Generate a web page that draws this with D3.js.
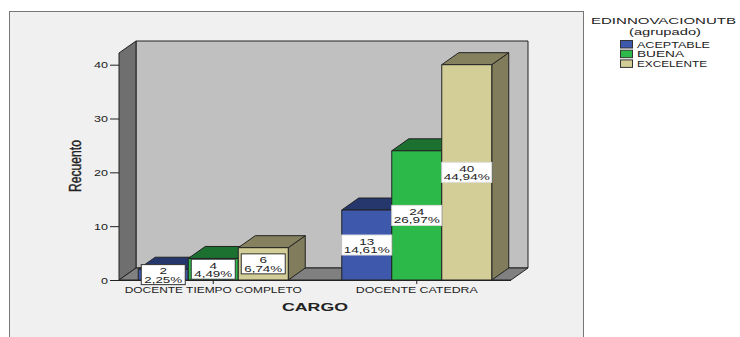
<!DOCTYPE html>
<html><head><meta charset="utf-8">
<script src="https://cdnjs.cloudflare.com/ajax/libs/d3/7.8.5/d3.min.js"></script>
<style>html,body{margin:0;padding:0;background:#fff}svg{display:block}text{font-family:"Liberation Sans",Arial,sans-serif;fill:#222}</style>
</head><body><svg id="c" width="740" height="337"></svg>
<script>
const categories = ["DOCENTE TIEMPO COMPLETO", "DOCENTE CATEDRA"];
const seriesNames = ["ACEPTABLE", "BUENA", "EXCELENTE"];
const aceptable = [2, 13];
const buena = [4, 24];
const excelente = [6, 40];
const aceptablePct = ["2,25%", "14,61%"];
const buenaPct = ["4,49%", "26,97%"];
const excelentePct = ["6,74%", "44,94%"];
const yTicks = [0, 10, 20, 30, 40];
const frontColors = ["#3e58ac", "#2db84a", "#d3ce97"];
const topColors = ["#26376e", "#1c7030", "#85815e"];
const sideColors = ["#26376e", "#1c7030", "#807c5c"];

const values = [aceptable, buena, excelente];
const pcts = [aceptablePct, buenaPct, excelentePct];
const dx = 17, dy = 12;
const svg = d3.select("#c");
const y = d3.scaleLinear().domain([0, 42.17]).range([280, 53]);
const x0 = d3.scaleBand().domain(categories).range([111.5, 518.5]);
const x1 = d3.scaleBand().domain(seriesNames).range([-75, 75]);
const poly = pts => pts.map(p => p.join(",")).join(" ");
const stroke = "#222";

// outer panel
svg.append("rect").attr("x", 9.5).attr("y", 11.5).attr("width", 574).attr("height", 330)
  .attr("fill", "#f0f0f0").attr("stroke", "#777").attr("stroke-width", 1);

// walls and floor
const xl = 119, xr = 511, y0 = y(0), yt = y.range()[1];
svg.append("polygon").attr("points", poly([[xl + dx, yt - dy], [xr + dx, yt - dy], [xr + dx, y0 - dy], [xl + dx, y0 - dy]]))
  .attr("fill", "#c0c0c0").attr("stroke", stroke).attr("stroke-width", 1);
svg.append("polygon").attr("points", poly([[xl, yt], [xl + dx, yt - dy], [xl + dx, y0 - dy], [xl, y0]]))
  .attr("fill", "#6f6f6f").attr("stroke", stroke).attr("stroke-width", 1);
svg.append("polygon").attr("points", poly([[xl, y0], [xl + dx, y0 - dy], [xr + dx, y0 - dy], [xr, y0]]))
  .attr("fill", "#808080").attr("stroke", stroke).attr("stroke-width", 1);

// axes
const ya = svg.append("g").attr("transform", `translate(${xl},0)`)
  .call(d3.axisLeft(y).tickValues(yTicks).tickSize(9).tickPadding(2));
ya.select(".domain").remove();
ya.selectAll("line").attr("stroke", "#222");
ya.selectAll("text").attr("font-size", 9.5).attr("textLength", d => d === 0 ? 7 : 14).attr("lengthAdjust", "spacingAndGlyphs");

const xa = svg.append("g").attr("transform", `translate(0,${y0})`)
  .call(d3.axisBottom(x0).tickSize(4).tickPadding(0));
xa.select(".domain").attr("stroke", "#222").attr("d", `M${xl},0.5H${xr}`);
xa.selectAll("line").attr("stroke", "#222");
xa.selectAll("text").attr("font-size", 9).attr("dy", "1.05em")
  .attr("textLength", (d, i) => [177, 122][i]).attr("lengthAdjust", "spacingAndGlyphs");

// bars
categories.forEach((cat, ci) => {
  seriesNames.forEach((s, si) => {
    const v = values[si][ci];
    const a = x0(cat) + x0.bandwidth() / 2 + x1(s), w = x1.bandwidth(), t = y(v);
    const g = svg.append("g").attr("stroke", stroke).attr("stroke-width", 1).attr("stroke-linejoin", "round");
    g.append("polygon").attr("points", poly([[a + w, t], [a + w + dx, t - dy], [a + w + dx, y0 - dy], [a + w, y0]])).attr("fill", sideColors[si]);
    g.append("polygon").attr("points", poly([[a, t], [a + dx, t - dy], [a + w + dx, t - dy], [a + w, t]])).attr("fill", topColors[si]);
    g.append("rect").attr("x", a).attr("y", t).attr("width", w).attr("height", y0 - t).attr("fill", frontColors[si]);
  });
});

// value labels
categories.forEach((cat, ci) => {
  seriesNames.forEach((s, si) => {
    const v = values[si][ci];
    const cx = x0(cat) + x0.bandwidth() / 2 + x1(s) + x1.bandwidth() / 2;
    const cy = (y(v) + y0) / 2;
    const pct = pcts[si][ci];
    const bw = ci === 0 ? 44 : 50, bh = 20;
    const g = svg.append("g");
    g.append("rect").attr("x", cx - bw / 2).attr("y", cy - bh / 2).attr("width", bw).attr("height", bh)
      .attr("fill", "#fff").attr("stroke", ci === 0 ? "#333" : "#ddd").attr("stroke-width", 1);
    g.append("text").attr("x", cx).attr("y", cy - 0.5).attr("text-anchor", "middle").attr("font-size", 8.5)
      .attr("textLength", String(v).length * 7.5).attr("lengthAdjust", "spacingAndGlyphs").text(v);
    g.append("text").attr("x", cx).attr("y", cy + 8).attr("text-anchor", "middle").attr("font-size", 8.5)
      .attr("textLength", ci === 0 ? 38 : 46).attr("lengthAdjust", "spacingAndGlyphs").text(pct);
  });
});

// axis titles
svg.append("text").attr("x", 315).attr("y", 311).attr("text-anchor", "middle").attr("font-size", 11)
  .attr("font-weight", "bold").attr("textLength", 66).attr("lengthAdjust", "spacingAndGlyphs").text("CARGO");
svg.append("text").attr("transform", "translate(81,166) rotate(-90)").attr("text-anchor", "middle").attr("font-size", 16)
  .attr("font-weight", "normal").attr("stroke", "#222").attr("stroke-width", 0.4).attr("textLength", 52).attr("lengthAdjust", "spacingAndGlyphs").text("Recuento");

// legend
svg.append("text").attr("x", 591).attr("y", 24).attr("font-size", 9.5).attr("textLength", 145).attr("lengthAdjust", "spacingAndGlyphs").text("EDINNOVACIONUTB");
svg.append("text").attr("x", 665).attr("y", 34.5).attr("text-anchor", "middle").attr("font-size", 9).attr("textLength", 72).attr("lengthAdjust", "spacingAndGlyphs").text("(agrupado)");
const lw = [73, 47, 70];
seriesNames.forEach((s, i) => {
  const ly = 40 + i * 9.7;
  svg.append("rect").attr("x", 620.5).attr("y", ly + 0.5).attr("width", 12).attr("height", 7.5)
    .attr("fill", frontColors[i]).attr("stroke", "#333").attr("stroke-width", 1);
  svg.append("text").attr("x", 637).attr("y", ly + 7.5).attr("font-size", 9).attr("textLength", lw[i]).attr("lengthAdjust", "spacingAndGlyphs").text(s);
});
</script></body></html>
